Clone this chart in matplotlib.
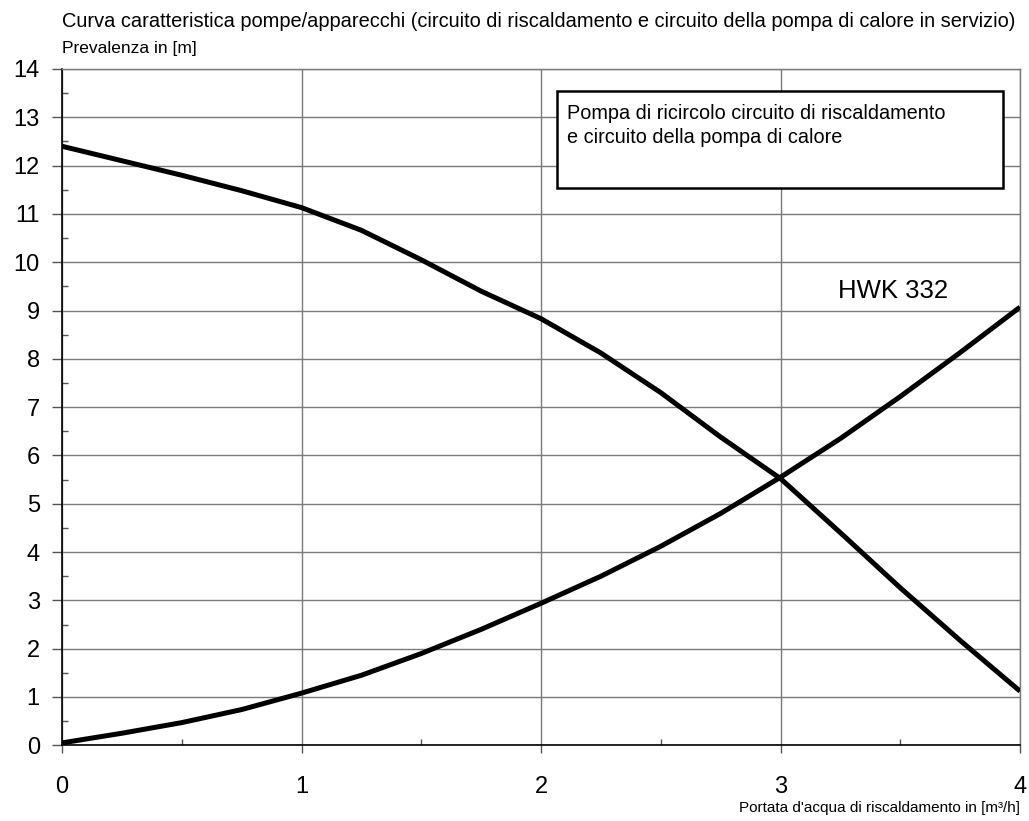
import numpy as np
import matplotlib.pyplot as plt
from matplotlib.patches import Rectangle
from matplotlib.ticker import MultipleLocator

plt.rcParams['font.family'] = ['Liberation Sans', 'DejaVu Sans']

# portata [m3/h]
portata = [0, 0.25, 0.5, 0.75, 1.0, 1.25, 1.5, 1.75, 2.0, 2.25, 2.5, 2.75, 3.0, 3.25, 3.5, 3.75, 4.0]
# curva pompa di ricircolo
pompa = [12.4, 12.1, 11.8, 11.48, 11.13, 10.66, 10.05, 9.4, 8.83, 8.12, 7.3, 6.38, 5.52, 4.4, 3.26, 2.17, 1.12]
# curva apparecchio HWK 332
hwk = [0.05, 0.25, 0.47, 0.74, 1.08, 1.45, 1.9, 2.4, 2.94, 3.5, 4.12, 4.8, 5.55, 6.35, 7.22, 8.13, 9.07]

fig = plt.figure(figsize=(10.29, 8.21), dpi=100)
ax = fig.add_axes([0.0603, 0.0922, 0.931, 0.8238])

ax.plot(portata, pompa, color='black', lw=3.6, solid_capstyle='butt', zorder=3)
ax.plot(portata, hwk, color='black', lw=3.6, solid_capstyle='butt', zorder=3)

ax.set_xlim(0, 4)
ax.set_ylim(0, 14)
ax.xaxis.set_major_locator(MultipleLocator(1))
ax.yaxis.set_major_locator(MultipleLocator(1))
ax.xaxis.set_minor_locator(MultipleLocator(0.5))
ax.yaxis.set_minor_locator(MultipleLocator(0.5))

ax.grid(True, which='major', color='#7a7a7a', lw=1.0)
ax.set_axisbelow(True)

ax.tick_params(axis='y', which='major', direction='out', length=7, width=1,
               color='#555555', labelsize=17, pad=9)
ax.tick_params(axis='x', which='major', direction='out', length=6, width=1,
               color='#555555', labelsize=17, pad=16)
ax.tick_params(which='minor', direction='in', length=4, width=1, color='#555555')

for s in ['left', 'bottom']:
    ax.spines[s].set_color('black')
    ax.spines[s].set_linewidth(1.2)
for s in ['top', 'right']:
    ax.spines[s].set_color('#7a7a7a')
    ax.spines[s].set_linewidth(1.0)

# riquadro descrizione
ax.add_patch(Rectangle((2.067, 11.54), 1.863, 2.01, facecolor='white',
                       edgecolor='black', lw=1.8, zorder=4))
ax.text(2.11, 13.27, 'Pompa di ricircolo circuito di riscaldamento\ne circuito della pompa di calore',
        fontsize=14.3, va='top', ha='left', linespacing=1.33, zorder=5)

ax.text(3.24, 9.41, 'HWK 332', fontsize=18.5, va='center', ha='left')

fig.text(0.0603, 0.974,
         'Curva caratteristica pompe/apparecchi (circuito di riscaldamento e circuito della pompa di calore in servizio)',
         fontsize=14.4, ha='left', va='center')
fig.text(0.0603, 0.941, 'Prevalenza in [m]', fontsize=12.5, ha='left', va='center')
fig.text(0.9913, 0.016, "Portata d'acqua di riscaldamento in [m³/h]", fontsize=11,
         ha='right', va='center')

fig.savefig('out.png', dpi=100)
